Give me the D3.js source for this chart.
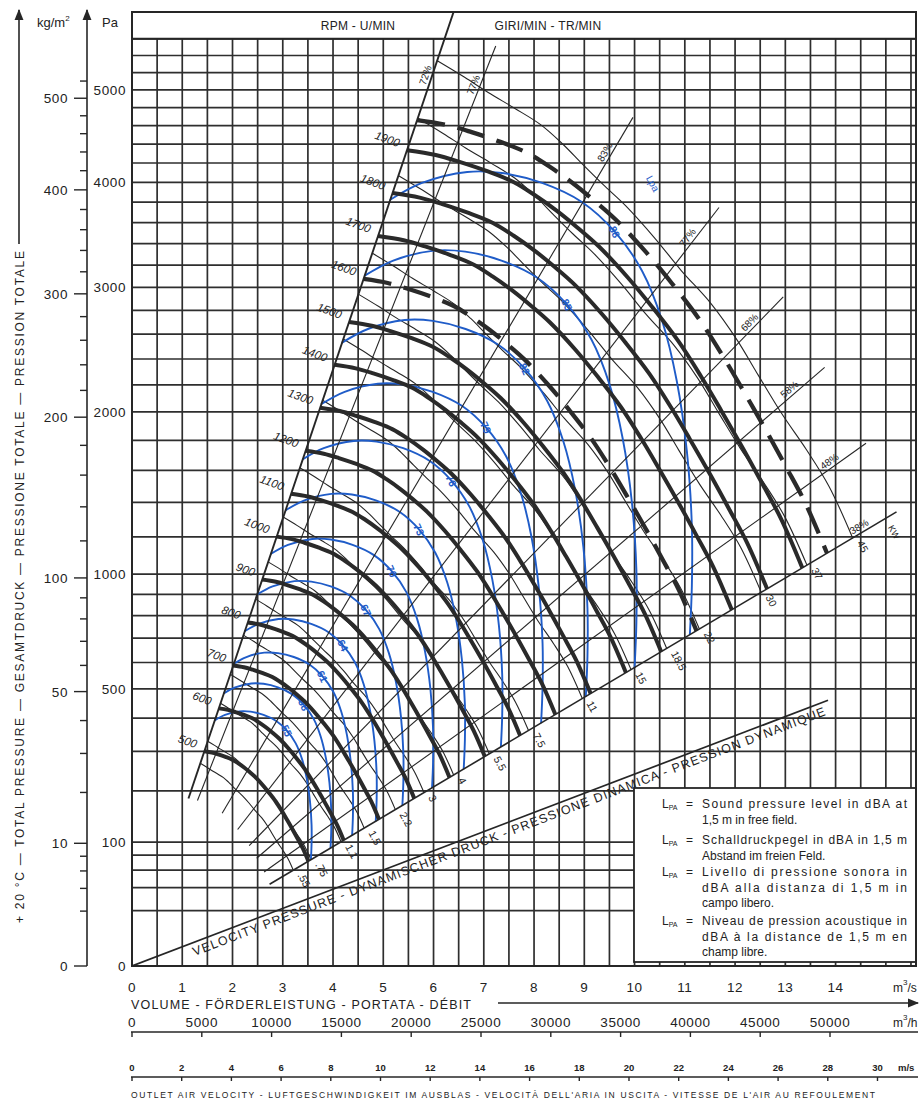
<!DOCTYPE html>
<html>
<head>
<meta charset="utf-8">
<title>Fan performance chart</title>
<script src="https://cdn.jsdelivr.net/npm/d3@7"></script>
<style>
  html, body { margin: 0; padding: 0; background: #fff; }
  svg { display: block; }
  text { font-family: "Liberation Sans", Arial, Helvetica, sans-serif; fill: #222; }
</style>
</head>
<body>
<svg id="chart" width="922" height="1101"></svg>
<script>
// ---------- axis ticks ----------
const flowTicks = [0, 1, 2, 3, 4, 5, 6, 7, 8, 9, 10, 11, 12, 13, 14];
const flowHourTicks = [0, 5000, 10000, 15000, 20000, 25000, 30000, 35000, 40000, 45000, 50000];
const velocityTicks = [0, 2, 4, 6, 8, 10, 12, 14, 16, 18, 20, 22, 24, 26, 28, 30];
const pressureTicks = [0, 100, 500, 1000, 2000, 3000, 4000, 5000];
const kgTicks = [0, 10, 50, 100, 200, 300, 400, 500];

// ---------- fan characteristic at 1000 rpm (m³/s, Pa) ----------
const baseFlow = [2.88, 3.18, 3.43, 3.72, 3.99, 4.22, 4.45, 4.66, 4.89, 5.19, 5.45, 5.72, 5.96, 6.17, 6.39, 6.60, 6.80, 7.02];
const basePressure = [1201, 1187, 1167, 1140, 1110, 1072, 1029, 985, 934, 856, 783, 705, 627, 557, 486, 420, 360, 286];

// speed curves (rpm) and the two maximum-speed limits
const speedCurves = [500, 600, 700, 800, 900, 1000, 1100, 1200, 1300, 1400, 1500, 1700, 1800, 1900];
const speedLabels = [500, 600, 700, 800, 900, 1000, 1100, 1200, 1300, 1400, 1500, 1600, 1700, 1800, 1900];
const speedLimits = [1600, 1970];

// ---------- absorbed power lines (kW) ----------
// outline of one power line, ending on the lower limit line at 7.02 m³/s
const powerShapeFlow = [2.97, 3.24, 3.47, 3.73, 3.98, 4.19, 4.39, 4.59, 4.81, 5.10, 5.35, 5.64, 5.89, 6.10, 6.33, 6.57, 6.79, 7.02];
const powerShapePressure = [1280, 1233, 1191, 1148, 1105, 1056, 1003, 953, 902, 825, 755, 685, 613, 545, 476, 416, 359, 286];
const motorKw = [".55", ".75", "1.1", "1.5", "2.2", "3", "4", "5.5", "7.5", "11", "15", "18.5", "22", "30", "37", "45"];
const motorEndFlow = [3.21, 3.56, 4.16, 4.62, 5.24, 5.81, 6.40, 7.11, 7.89, 8.96, 9.93, 10.64, 11.29, 12.52, 13.43, 14.34];

// ---------- sound pressure level curves (dBA) ----------
const soundLevels = [55, 58, 61, 64, 67, 70, 73, 76, 79, 82, 85, 88];
const soundEndFlow = [3.56, 3.95, 4.38, 4.85, 5.38, 5.97, 6.60, 7.34, 8.14, 9.03, 10.0, 11.1];
// outline of the 88 dBA curve
const soundShapeFlow = [5.13, 5.77, 6.67, 7.36, 8.16, 8.95, 9.61, 10.15, 10.55, 10.84, 11.04, 11.14, 11.14, 11.10];
const soundShapePressure = [3822, 3994, 4107, 4096, 3994, 3802, 3510, 3147, 2710, 2229, 1728, 1261, 941, 714];
const soundLabelIndex = 6;

// ---------- efficiency lines: crossing with the 1000 rpm curve ----------
const effLabels = ["72%", "77%", "83%", "77%", "68%", "58%", "48%", "38%"];
const effFlow = [2.88, 3.34, 4.60, 5.39, 5.98, 6.36, 6.74, 7.02];
const effPressure = [1201, 1174, 999, 798, 621, 497, 379, 286];

// ---------- velocity pressure line ----------
const dynFlow = [0, 13.85];
const dynPressure = [0, 460];

// ---------- legend ----------
const legendLines = [
  ["Sound pressure level in dBA at", "1,5 m in free field."],
  ["Schalldruckpegel in dBA in 1,5 m", "Abstand im freien Feld."],
  ["Livello di pressione sonora in", "dBA alla distanza di 1,5 m in", "campo libero."],
  ["Niveau de pression acoustique in", "dBA à la distance de 1,5 m en", "champ libre."]
];

// ---------- layout ----------
const pL = 132, pR = 916, pT = 12, gridTop = 38.8, pB = 966;
const svg = d3.select("#chart");
const ink = "#262626", blue = "#1f5cc8";

const x = d3.scaleLinear().domain([0, 15.6]).range([pL, pR]);
const xh = d3.scaleLinear().domain([0, 15.6 * 3600]).range([pL, pR]);
const xv = d3.scaleLinear().domain([0, 31.55]).range([pL, pR]);
const y = d3.scaleSqrt().domain([0, 5600]).range([pB, gridTop]);
const kg = v => y(v * 9.81);

const defs = svg.append("defs");
defs.append("clipPath").attr("id", "plot").append("rect")
  .attr("x", pL).attr("y", gridTop).attr("width", pR - pL).attr("height", pB - gridTop);
defs.append("clipPath").attr("id", "frame").append("rect")
  .attr("x", pL).attr("y", pT).attr("width", pR - pL).attr("height", pB - pT);
defs.append("marker").attr("id", "arrow").attr("viewBox", "0 0 10 10")
  .attr("refX", 9).attr("refY", 5).attr("markerWidth", 7).attr("markerHeight", 7)
  .attr("orient", "auto-start-reverse")
  .append("path").attr("d", "M0,1 L10,5 L0,9 z").attr("fill", ink);

// ---------- grid ----------
const grid = svg.append("g").attr("stroke", "#2e2e2e").attr("stroke-width", 1.7);
const vGrid = d3.range(0.5, 15.51, 0.5);
grid.selectAll("line.v").data(vGrid).join("line")
  .attr("x1", d => x(d)).attr("x2", d => x(d)).attr("y1", gridTop).attr("y2", pB);
const hGrid = [20, 40, 60, 80, 100].concat(d3.range(200, 1000, 100), d3.range(1000, 5601, 200));
grid.selectAll("line.h").data(hGrid).join("line")
  .attr("x1", pL).attr("x2", pR).attr("y1", d => y(d)).attr("y2", d => y(d));

const line = d3.line().x(d => x(d[0])).y(d => y(d[1])).curve(d3.curveCatmullRom.alpha(0.5));
const scaled = (flows, pressures, r) => flows.map((q, i) => [q * r, pressures[i] * r * r]);

const plot = svg.append("g").attr("clip-path", "url(#plot)");

// ---------- velocity pressure line ----------
plot.append("path")
  .attr("d", d3.line()([[x(dynFlow[0]), y(dynPressure[0])], [x(dynFlow[1]), y(dynPressure[1])]]))
  .attr("stroke", ink).attr("stroke-width", 1.7).attr("fill", "none");

// ---------- efficiency lines ----------
const effLayer = svg.append("g").attr("clip-path", "url(#frame)");
effLabels.forEach((lab, i) => {
  const rOut = i === 0 ? 2.5 : 2.167;
  const p0 = [effFlow[i] * 0.39, effPressure[i] * 0.39 * 0.39];
  const p1 = [effFlow[i] * rOut, effPressure[i] * rOut * rOut];
  effLayer.append("line")
    .attr("x1", x(p0[0])).attr("y1", y(p0[1])).attr("x2", x(p1[0])).attr("y2", y(p1[1]))
    .attr("stroke", ink).attr("stroke-width", i === 0 ? 1.9 : (i === 7 ? 1.6 : 1.1));
  const rl = 2.07;
  const lx = x(effFlow[i] * rl), ly = y(effPressure[i] * rl * rl);
  const ang = Math.atan2(y(p1[1]) - y(p0[1]), x(p1[0]) - x(p0[0])) * 180 / Math.PI;
  effLayer.append("text").attr("transform", `translate(${lx},${ly}) rotate(${ang})`)
    .attr("text-anchor", "middle").attr("dy", -3).attr("font-size", 10).text(lab);
});

// ---------- power lines ----------
const powerLayer = plot.append("g").attr("fill", "none").attr("stroke", ink).attr("stroke-width", 1.1);
motorEndFlow.forEach(q => {
  const r = q / powerShapeFlow[powerShapeFlow.length - 1];
  powerLayer.append("path").attr("d", line(scaled(powerShapeFlow, powerShapePressure, r)));
});

// ---------- sound level curves ----------
const soundLayer = plot.append("g");
soundLevels.forEach((lv, i) => {
  const r = soundEndFlow[i] / soundShapeFlow[soundShapeFlow.length - 1];
  const pts = scaled(soundShapeFlow, soundShapePressure, r);
  soundLayer.append("path").attr("d", line(pts))
    .attr("fill", "none").attr("stroke", blue).attr("stroke-width", 1.9);
  const lp = pts[soundLabelIndex];
  soundLayer.append("text")
    .attr("transform", `translate(${x(lp[0])},${y(lp[1])}) rotate(65)`)
    .attr("text-anchor", "middle").attr("dy", 4)
    .attr("font-size", 10.5).attr("font-weight", "bold").style("fill", blue).text(lv);
});
soundLayer.append("text")
  .attr("transform", `translate(${x(10.3)},${y(3970)}) rotate(62)`)
  .attr("text-anchor", "middle").attr("font-size", 10).style("fill", blue).text("Lpa");

// ---------- speed curves ----------
const speedLayer = plot.append("g").attr("fill", "none").attr("stroke", "#2a2a2a");
speedCurves.forEach(n => {
  speedLayer.append("path").attr("d", line(scaled(baseFlow, basePressure, n / 1000)))
    .attr("stroke-width", 4);
});
speedLimits.forEach(n => {
  speedLayer.append("path").attr("d", line(scaled(baseFlow, basePressure, n / 1000)))
    .attr("stroke-width", 4.3).attr("stroke-dasharray", "28,13");
});
speedLabels.forEach(n => {
  const r = n / 1000;
  const sx = x(baseFlow[0] * r), sy = y(basePressure[0] * r * r);
  svg.append("text").attr("transform", `translate(${sx - 9},${sy - 3}) rotate(20)`)
    .attr("text-anchor", "end").attr("font-size", 11.5).attr("font-style", "italic").text(n);
});

// ---------- motor power labels ----------
const lowK = effPressure[7] / (effFlow[7] * effFlow[7]);
motorKw.forEach((kw, i) => {
  const q = motorEndFlow[i];
  const p = lowK * q * q;
  svg.append("text").attr("transform", `translate(${x(q) + 4},${y(p) + 5}) rotate(62)`)
    .attr("font-size", 10.5).text(kw);
});
svg.append("text").attr("transform", `translate(${x(15.0) + 2},${y(lowK * 225) + 9}) rotate(62)`)
  .attr("font-size", 9).text("KW");

// velocity pressure caption
{
  const ang = Math.atan2(y(dynPressure[1]) - y(0), x(dynFlow[1]) - x(0)) * 180 / Math.PI;
  svg.append("text")
    .attr("transform", `translate(${x(0)},${y(0)}) rotate(${ang})`)
    .attr("x", 62).attr("y", 13).attr("font-size", 12.5)
    .attr("textLength", 676).attr("lengthAdjust", "spacing")
    .text("VELOCITY PRESSURE - DYNAMISCHER DRUCK - PRESSIONE DINAMICA - PRESSION DYNAMIQUE");
}

// ---------- legend box ----------
const lg = svg.append("g");
lg.append("rect").attr("x", 634).attr("y", 788).attr("width", pR - 634).attr("height", 174)
  .attr("fill", "#fff").attr("stroke", ink).attr("stroke-width", 1.8);
const legendBase = [808, 844, 876, 925];
legendLines.forEach((para, k) => {
  const y0 = legendBase[k];
  const t = lg.append("text").attr("x", 662).attr("y", y0).attr("font-size", 12);
  t.append("tspan").text("L");
  t.append("tspan").attr("font-size", 7).attr("dy", 2).text("PA");
  lg.append("text").attr("x", 686).attr("y", y0).attr("font-size", 12).text("=");
  para.forEach((s, j) => {
    const tt = lg.append("text").attr("x", 702).attr("y", y0 + j * 15.5).attr("font-size", 12).text(s);
    if (j < para.length - 1) tt.attr("textLength", 205).attr("lengthAdjust", "spacing");
  });
});

// ---------- frame and header ----------
svg.append("rect").attr("x", pL).attr("y", pT).attr("width", pR - pL).attr("height", pB - pT)
  .attr("fill", "none").attr("stroke", ink).attr("stroke-width", 2);
svg.append("line").attr("x1", pL).attr("x2", pR).attr("y1", gridTop).attr("y2", gridTop)
  .attr("stroke", ink).attr("stroke-width", 2);
svg.append("text").attr("x", 358).attr("y", 30).attr("text-anchor", "middle").attr("font-size", 12)
  .attr("letter-spacing", 0.3).text("RPM - U/MIN");
svg.append("text").attr("x", 548).attr("y", 30).attr("text-anchor", "middle").attr("font-size", 12)
  .attr("letter-spacing", 0.3).text("GIRI/MIN - TR/MIN");

// ---------- left axes ----------
const axisX = 87;
svg.append("line").attr("x1", axisX).attr("x2", axisX).attr("y1", pB).attr("y2", 10)
  .attr("stroke", ink).attr("stroke-width", 1.6).attr("marker-end", "url(#arrow)");
svg.selectAll("text.pa").data(pressureTicks).join("text")
  .attr("x", 126).attr("y", d => y(d) + 5).attr("text-anchor", "end")
  .attr("font-size", 13.5).attr("letter-spacing", 0.6).text(d => d);
const kgMinor = [2, 4, 6, 8, 20, 30, 40, 60, 70, 80, 90].concat(d3.range(120, 500, 20).filter(v => v % 100 !== 0), [520]);
svg.selectAll("line.kgm").data(kgMinor).join("line")
  .attr("x1", 80).attr("x2", axisX).attr("y1", d => kg(d)).attr("y2", d => kg(d))
  .attr("stroke", ink).attr("stroke-width", 1.4);
svg.selectAll("line.kgM").data(kgTicks).join("line")
  .attr("x1", 74).attr("x2", axisX).attr("y1", d => kg(d)).attr("y2", d => kg(d))
  .attr("stroke", ink).attr("stroke-width", 1.4);
svg.selectAll("text.kg").data(kgTicks).join("text")
  .attr("x", 68).attr("y", d => kg(d) + 5).attr("text-anchor", "end")
  .attr("font-size", 13.5).attr("letter-spacing", 0.6).text(d => d);
{
  const t = svg.append("text").attr("x", 37).attr("y", 27).attr("font-size", 13).text("kg/m");
  t.append("tspan").attr("font-size", 8).attr("dy", -6).text("2");
  svg.append("text").attr("x", 102).attr("y", 27).attr("font-size", 13).text("Pa");
}
svg.append("line").attr("x1", 19).attr("x2", 19).attr("y1", 244).attr("y2", 10)
  .attr("stroke", ink).attr("stroke-width", 1.6).attr("marker-end", "url(#arrow)");
svg.append("text").attr("transform", "translate(24,923) rotate(-90)")
  .attr("font-size", 12).attr("textLength", 672).attr("lengthAdjust", "spacing")
  .text("+ 20 °C — TOTAL PRESSURE — GESAMTDRUCK — PRESSIONE TOTALE — PRESSION TOTALE");

// ---------- bottom axes ----------
svg.selectAll("text.q").data(flowTicks).join("text")
  .attr("x", d => x(d)).attr("y", 992).attr("text-anchor", "middle")
  .attr("font-size", 13.5).attr("letter-spacing", 0.6).text(d => d);
function unit(xp, yp, tail) {
  const t = svg.append("text").attr("x", xp).attr("y", yp).attr("font-size", 12).text("m");
  t.append("tspan").attr("font-size", 8).attr("dy", -7).text("3");
  t.append("tspan").attr("dy", 7).text(tail);
}
unit(893, 992, "/s");
svg.append("text").attr("x", 131).attr("y", 1009).attr("font-size", 12.5)
  .attr("textLength", 340).attr("lengthAdjust", "spacing")
  .text("VOLUME - FÖRDERLEISTUNG - PORTATA - DÉBIT");
svg.append("line").attr("x1", 498).attr("x2", 918).attr("y1", 1003).attr("y2", 1003)
  .attr("stroke", ink).attr("stroke-width", 1.6).attr("marker-end", "url(#arrow)");

svg.selectAll("text.qh").data(flowHourTicks).join("text")
  .attr("x", d => xh(d)).attr("y", 1027).attr("text-anchor", "middle")
  .attr("font-size", 13.5).attr("letter-spacing", 0.6).text(d => d);
unit(893, 1027, "/h");
svg.append("line").attr("x1", pL - 1).attr("x2", pR + 2).attr("y1", 1032).attr("y2", 1032)
  .attr("stroke", ink).attr("stroke-width", 1.6);
svg.selectAll("line.qht").data(flowHourTicks).join("line")
  .attr("x1", d => xh(d)).attr("x2", d => xh(d)).attr("y1", 1032).attr("y2", 1037)
  .attr("stroke", ink).attr("stroke-width", 1.4);

svg.selectAll("text.v").data(velocityTicks).join("text")
  .attr("x", d => xv(d)).attr("y", 1071).attr("text-anchor", "middle")
  .attr("font-size", 9.5).attr("font-weight", "bold").text(d => d);
svg.append("text").attr("x", 898).attr("y", 1071).attr("font-size", 9.5).attr("font-weight", "bold").text("m/s");
svg.append("line").attr("x1", pL - 1).attr("x2", pR + 2).attr("y1", 1077).attr("y2", 1077)
  .attr("stroke", ink).attr("stroke-width", 1.6);
svg.selectAll("line.vt").data(velocityTicks).join("line")
  .attr("x1", d => xv(d)).attr("x2", d => xv(d)).attr("y1", 1077).attr("y2", 1081)
  .attr("stroke", ink).attr("stroke-width", 1.4);
svg.append("text").attr("x", 131).attr("y", 1098).attr("font-size", 8.5)
  .attr("textLength", 744).attr("lengthAdjust", "spacing")
  .text("OUTLET AIR VELOCITY - LUFTGESCHWINDIGKEIT IM AUSBLAS - VELOCITÀ DELL'ARIA IN USCITA - VITESSE DE L'AIR AU REFOULEMENT");
</script>
</body>
</html>
